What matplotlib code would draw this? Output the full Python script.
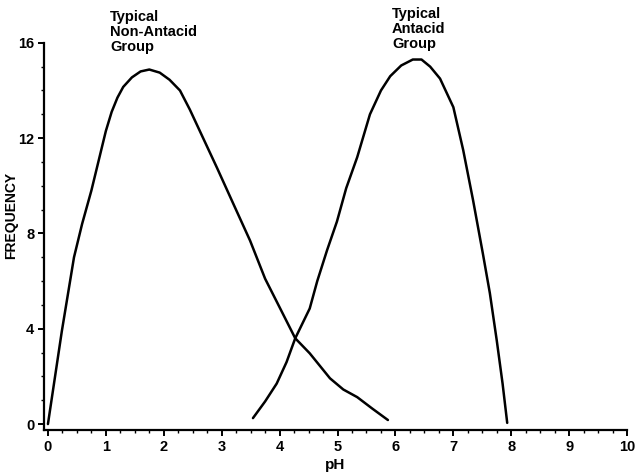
import matplotlib
matplotlib.use("Agg")
import matplotlib.pyplot as plt
from matplotlib.ticker import MultipleLocator

plt.rcParams["font.family"] = ["Liberation Sans", "DejaVu Sans"]
plt.rcParams["font.weight"] = "bold"

# Typical Non-Antacid Group (pH, frequency)
non_antacid_ph = [0.0, 0.24, 0.45, 0.59, 0.75, 0.9, 1.0, 1.1, 1.2, 1.3,
                  1.45, 1.6, 1.75, 1.93, 2.1, 2.28, 2.45, 2.68, 2.92, 3.2,
                  3.49, 3.75, 4.0, 4.27, 4.52, 4.87, 5.1, 5.34, 5.6, 5.87]
non_antacid_freq = [0.0, 3.9, 7.0, 8.4, 9.8, 11.3, 12.3, 13.1, 13.7, 14.15,
                    14.55, 14.8, 14.88, 14.75, 14.45, 14.0, 13.2, 12.0, 10.75, 9.25,
                    7.7, 6.1, 4.9, 3.6, 2.97, 1.92, 1.45, 1.13, 0.65, 0.17]

# Typical Antacid Group
antacid_ph = [3.54, 3.75, 3.95, 4.12, 4.27, 4.52, 4.65, 4.82, 4.99, 5.15,
              5.34, 5.56, 5.75, 5.91, 6.1, 6.3, 6.45, 6.6, 6.77, 7.0, 7.17,
              7.34, 7.51, 7.63, 7.75, 7.85, 7.93]
antacid_freq = [0.25, 0.95, 1.7, 2.6, 3.6, 4.85, 6.0, 7.3, 8.5, 9.9,
                11.2, 13.0, 14.0, 14.6, 15.05, 15.3, 15.3, 15.0, 14.5, 13.3, 11.5,
                9.4, 7.15, 5.5, 3.5, 1.7, 0.05]

x_ticks = list(range(0, 11))
y_ticks = [0, 4, 8, 12, 16]

fig = plt.figure(figsize=(6.36, 4.76), dpi=100)
ax = fig.add_axes([0.069, 0.0966, 0.917, 0.8134])

ax.plot(non_antacid_ph, non_antacid_freq, color="black", lw=1.8,
        solid_joinstyle="round", solid_capstyle="round")
ax.plot(antacid_ph, antacid_freq, color="black", lw=1.8,
        solid_joinstyle="round", solid_capstyle="round")

ax.set_xlim(-0.07, 10.0)
ax.set_ylim(-0.25, 16)
ax.set_xticks(x_ticks)
ax.set_yticks(y_ticks)
ax.xaxis.set_minor_locator(MultipleLocator(0.25))
ax.yaxis.set_minor_locator(MultipleLocator(1))
ax.tick_params(which="major", length=4, width=1.4, labelsize=10.5, pad=3)
ax.tick_params(which="minor", length=2.5, width=1.0)

for s in ["top", "right"]:
    ax.spines[s].set_visible(False)
for s in ["left", "bottom"]:
    ax.spines[s].set_linewidth(1.6)

ax.set_xlabel("pH", fontsize=11, fontweight="bold", labelpad=3)
ax.set_ylabel("FREQUENCY", fontsize=10, fontweight="bold")
ax.yaxis.set_label_coords(-0.045, 0.555)

# group labels above the two peaks
ax.text(1.07, 17.36, "Typical\nNon-Antacid\nGroup", fontsize=10.5,
        fontweight="bold", va="top", ha="left", linespacing=1.08,
        clip_on=False)
ax.text(5.94, 17.49, "Typical\nAntacid\nGroup", fontsize=10.5,
        fontweight="bold", va="top", ha="left", linespacing=1.08,
        clip_on=False)

fig.savefig("out.png", dpi=100)
